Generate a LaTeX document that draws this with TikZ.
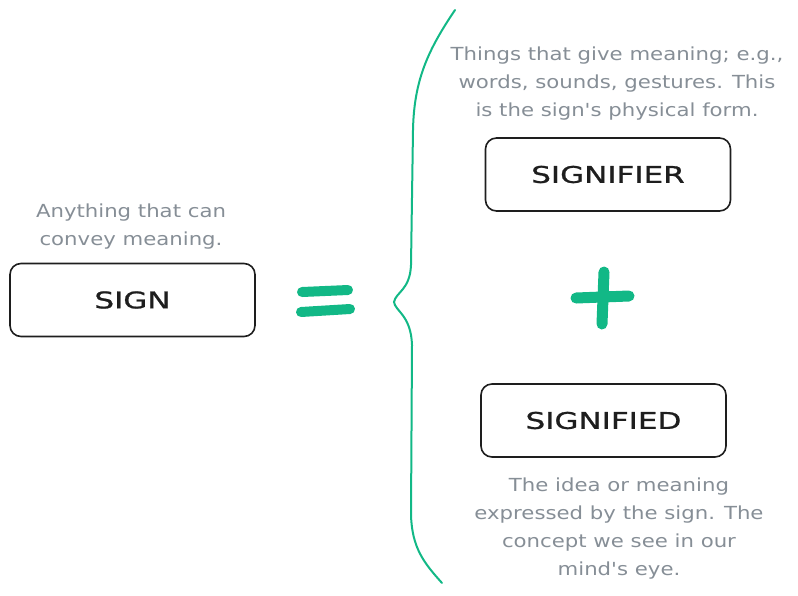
\documentclass[tikz,border=0pt]{standalone}
\usepackage{fontspec}
\setmainfont{DejaVu Sans}
\newfontfamily\handnote[FakeStretch=1.18]{DejaVu Sans}
\newfontfamily\handlabel[FakeStretch=1.35,FakeBold=1]{DejaVu Sans}
\definecolor{ink}{HTML}{1E1E1E}
\definecolor{note}{HTML}{868E96}
\definecolor{grn}{HTML}{12B886}
\begin{document}
\begin{tikzpicture}[x=1pt,y=-1pt,
  box/.style={draw=ink,line width=1.6pt,rounded corners=11pt,minimum width=245pt,minimum height=73pt,inner sep=0pt,font=\handlabel\fontsize{23}{26}\selectfont,text=ink},
  caption/.style={text=note,align=center,inner sep=0pt,font=\handnote\fontsize{18}{28}\selectfont},
  greenstroke/.style={draw=grn,line width=10pt,line cap=round},
  bracestroke/.style={draw=grn,line width=2pt,line cap=round}]
\useasboundingbox (0,0) rectangle (798,595);
\node[box] (sign) at (132.5,300) {SIGN};
\node[box] (signifier) at (608,174.5) {SIGNIFIER};
\node[box] (signified) at (603.5,420.5) {SIGNIFIED};
\node[caption] (capsign) at (131,227) {Anything that can\\convey meaning.};
\node[caption] (capsignifier) at (617,84) {Things that give meaning; e.g.,\\words, sounds, gestures. This\\is the sign's physical form.};
\node[caption] (capsignified) at (619,529) {The idea or meaning\\expressed by the sign. The\\concept we see in our\\mind's eye.};
\coordinate (eqa1) at (302,292); \coordinate (eqa2) at (348,290);
\coordinate (eqb1) at (301,312); \coordinate (eqb2) at (350,309);
\draw[greenstroke] (eqa1) -- (eqa2);
\draw[greenstroke] (eqb1) -- (eqb2);
\coordinate (plv1) at (604,272); \coordinate (plv2) at (602,324);
\coordinate (plh1) at (576,298); \coordinate (plh2) at (629,296);
\draw[greenstroke,line width=11pt] (plv1) -- (plv2);
\draw[greenstroke,line width=11pt] (plh1) -- (plh2);
\coordinate (btop) at (455,10);
\coordinate (bmid) at (394,302);
\coordinate (bbot) at (442,583);
\draw[bracestroke] (btop) .. controls (428,50) and (414,80) .. (413,130)
  -- (411,265) .. controls (410,290) and (396,292) .. (bmid)
  .. controls (395,311) and (411,315) .. (412,345)
  -- (411,515) .. controls (412,548) and (424,563) .. (bbot);
\end{tikzpicture}
\end{document}
